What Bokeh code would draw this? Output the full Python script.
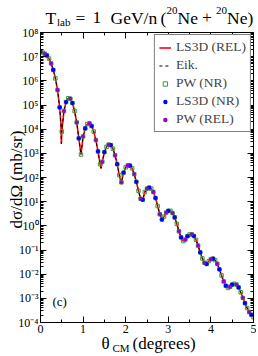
import math
from bokeh.plotting import figure
from bokeh.models import (Range1d, LinearAxis, LogAxis, FixedTicker, GridBox,
                          CustomJSTickFormatter, Label, Legend, LegendItem)
from bokeh.embed import file_html
from bokeh.resources import INLINE

# ---- data ----
theta = [0.00, 0.05, 0.10, 0.15, 0.20, 0.25, 0.30, 0.35, 0.40, 0.45, 0.48, 0.49, 0.50,
         0.55, 0.60, 0.65, 0.70, 0.75, 0.80, 0.85, 0.90, 0.95, 1.00,
         1.05, 1.10, 1.15, 1.20, 1.25, 1.30, 1.35, 1.40, 1.42, 1.45, 1.50,
         1.55, 1.60, 1.65, 1.70, 1.75, 1.80, 1.85, 1.89, 1.90, 1.95, 2.00,
         2.05, 2.10, 2.15, 2.20, 2.25, 2.30, 2.35, 2.38, 2.40, 2.45, 2.50,
         2.55, 2.60, 2.65, 2.70, 2.75, 2.80, 2.85, 2.90, 2.95, 3.00,
         3.05, 3.10, 3.15, 3.20, 3.25, 3.30, 3.35, 3.40, 3.45, 3.50,
         3.55, 3.60, 3.65, 3.70, 3.75, 3.80, 3.85, 3.90, 3.95, 4.00,
         4.05, 4.10, 4.15, 4.20, 4.25, 4.30, 4.35, 4.40, 4.45, 4.50,
         4.55, 4.60, 4.65, 4.70, 4.75, 4.80, 4.85, 4.90, 4.95, 5.00]
log_xsec = [7.20, 7.17, 7.12, 7.05, 6.92, 6.72, 6.45, 6.10, 5.62, 4.90, 4.20, 3.40, 3.90,
            4.75, 5.12, 5.28, 5.26, 5.08, 4.75, 4.28, 3.62, 2.95, 3.70,
            4.03, 4.21, 4.24, 4.13, 3.90, 3.55, 3.08, 2.55, 2.38, 2.65, 3.05,
            3.27, 3.36, 3.34, 3.19, 2.92, 2.55, 2.10, 1.76, 1.80, 2.20, 2.42,
            2.50, 2.49, 2.38, 2.14, 1.82, 1.45, 1.12, 1.02, 1.08, 1.40, 1.54,
            1.58, 1.54, 1.40, 1.15, 0.82, 0.48, 0.26, 0.38, 0.55, 0.62,
            0.62, 0.53, 0.35, 0.08, -0.22, -0.48, -0.63, -0.57, -0.43, -0.36,
            -0.35, -0.42, -0.58, -0.82, -1.10, -1.35, -1.53, -1.58, -1.46, -1.38,
            -1.36, -1.42, -1.57, -1.80, -2.05, -2.30, -2.48, -2.57, -2.52, -2.43,
            -2.40, -2.43, -2.55, -2.75, -2.98, -3.20, -3.40, -3.57, -3.68, -3.78]
xsec = [10 ** v for v in log_xsec]

x_ticks = [0, 1, 2, 3, 4, 5]
x_minor = [0.5, 1.5, 2.5, 3.5, 4.5]
y_exps = list(range(-4, 9))

series_names = ["LS3D (REL)", "Eik.", "PW (NR)", "LS3D (NR)", "PW (REL)"]

# marker subsets (on the 0.05 grid)
def on_grid(t, step, off):
    k = round(t * 100)
    return k % 5 == 0 and (k - off) % step == 0

green_idx = [i for i, t in enumerate(theta) if on_grid(t, 5, 0)]
blue_idx = [i for i, t in enumerate(theta) if on_grid(t, 15, 0)]
purple_idx = [i for i, t in enumerate(theta) if on_grid(t, 15, 10)]

SERIF = "Liberation Serif"

W, H = 256, 354
p = figure(width=W, height=H, x_range=Range1d(0, 5), y_range=Range1d(1e-4, 1e8),
           y_axis_type="log", output_backend="svg", toolbar_location=None,
           min_border_left=40, min_border_right=3, min_border_top=32, min_border_bottom=32)
p.frame_align = False
p.background_fill_color = "white"
p.border_fill_color = "white"
p.outline_line_color = "black"
p.xgrid.visible = False
p.ygrid.visible = False

xt = FixedTicker(ticks=x_ticks, minor_ticks=x_minor)
yt = FixedTicker(ticks=[10.0 ** e for e in y_exps],
                 minor_ticks=[m * 10.0 ** e for e in y_exps[:-1] for m in range(2, 10)])

sup_fmt = CustomJSTickFormatter(code="""
const e = Math.round(Math.log10(tick));
const s = {'-':'\u207b','0':'\u2070','1':'\u00b9','2':'\u00b2','3':'\u00b3','4':'\u2074','5':'\u2075','6':'\u2076','7':'\u2077','8':'\u2078','9':'\u2079'};
return '10' + String(e).split('').map(c => s[c]).join('');
""")
blank = CustomJSTickFormatter(code="return '';")

def style(ax):
    ax.axis_line_color = "black"
    ax.major_tick_line_color = "black"
    ax.minor_tick_line_color = "black"
    ax.major_tick_in = 6
    ax.major_tick_out = 0
    ax.minor_tick_in = 3
    ax.minor_tick_out = 0
    ax.major_label_text_font = SERIF
    ax.major_label_text_font_size = "12px"
    ax.major_label_text_color = "black"

xa = p.xaxis[0]
xa.ticker = xt
style(xa)
xa.major_label_standoff = 2
ya = p.yaxis[0]
ya.ticker = yt
ya.formatter = sup_fmt
style(ya)
ya.major_label_standoff = 2

ra = LogAxis(ticker=yt, formatter=blank)
style(ra)
ra.major_label_text_font_size = "0px"
ra.major_label_standoff = 0
p.add_layout(ra, "right")
ta = LinearAxis(ticker=xt, formatter=blank)
style(ta)
ta.major_label_text_font_size = "0px"
ta.major_label_standoff = 0
p.add_layout(ta, "above")

# curves
r_red = p.line(theta, xsec, line_color="#ff0000", line_width=1.6)
r_blk = p.line(theta, xsec, line_color="black", line_width=1.0, line_dash="3 3")
r_grn = p.scatter([theta[i] for i in green_idx], [xsec[i] for i in green_idx],
                  marker="square", size=3.5, fill_color=None, line_color="#3a9a3a", line_width=1)
r_blu = p.scatter([theta[i] for i in blue_idx], [xsec[i] for i in blue_idx],
                  marker="circle", size=4.2, fill_color="#0000ff", line_color=None)
r_pur = p.scatter([theta[i] for i in purple_idx], [xsec[i] for i in purple_idx],
                  marker="circle", size=3.8, fill_color="#9400d3", line_color=None)

legend = Legend(items=[LegendItem(label=series_names[0], renderers=[r_red]),
                       LegendItem(label=series_names[1], renderers=[r_blk]),
                       LegendItem(label=series_names[2], renderers=[r_grn]),
                       LegendItem(label=series_names[3], renderers=[r_blu]),
                       LegendItem(label=series_names[4], renderers=[r_pur])],
                location="top_right")
legend.label_text_font = SERIF
legend.label_text_font_size = "13.5px"
legend.label_height = 11
legend.glyph_height = 11
legend.glyph_width = 12
legend.spacing = 2
legend.padding = 4
legend.margin = 2
legend.label_standoff = 5
legend.border_line_color = "black"
legend.border_line_width = 1
legend.background_fill_alpha = 1
p.add_layout(legend)

p.add_layout(Label(x=12, y=14, x_units="screen", y_units="screen", text="(c)",
                   text_font=SERIF, text_font_size="13px", text_color="black"))

# transparent overlay figure for texts outside the frame (picture coords -> canvas)
q = figure(width=W, height=H, x_range=Range1d(0, 1), y_range=Range1d(0, 1),
           output_backend="svg", toolbar_location=None, title=None,
           x_axis_location=None, y_axis_location=None,
           min_border=0, min_border_left=0, min_border_right=0,
           min_border_top=0, min_border_bottom=0)
q.frame_align = False
q.background_fill_alpha = 0
q.border_fill_alpha = 0
q.outline_line_color = None
q.xgrid.visible = False
q.ygrid.visible = False

DY = 4  # measured vertical offset of the overlay canvas

def lab(txt, X, Y, size, align="left", baseline="alphabetic", angle=0):
    q.add_layout(Label(x=X, y=H - Y + DY, x_units="screen", y_units="screen", text=txt,
                       text_font=SERIF, text_font_size=size, text_align=align,
                       text_baseline=baseline, angle=angle, text_color="black"))

TS = "17.5px"
lab("T", 45, 21, TS)
lab("lab", 56.5, 25, "11px")
lab("=", 75, 21, TS)
lab("1", 92, 21, TS)
lab("GeV/n", 110, 21, TS)
lab("(", 160, 21, TS)
lab("20", 166, 14, "11px")
lab("Ne", 177, 21, TS)
lab("+", 201.5, 21, TS)
lab("20", 215.5, 14, "11px")
lab("Ne)", 226.5, 21, TS)

lab("d\u03c3/d\u03a9 (mb/sr)", 16, 183, "17px", align="center", baseline="middle", angle=math.pi / 2)

lab("\u03b8", 101, 347, "17px")
lab("CM", 112, 351, "11px")
lab("(degrees)", 132, 347, "17px")

grid = GridBox(children=[(p, 0, 0), (q, 0, 0)])
open("out.html", "w").write(file_html(grid, INLINE))
